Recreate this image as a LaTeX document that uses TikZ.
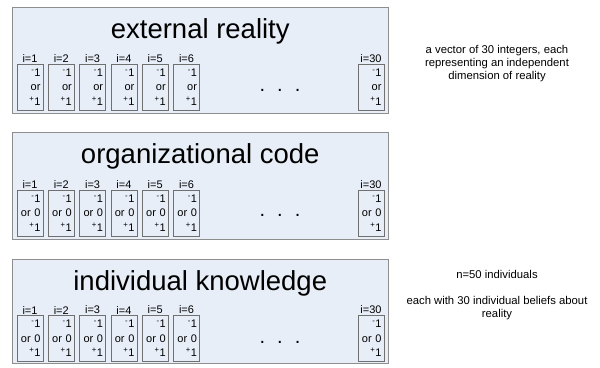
\documentclass[tikz,border=0pt]{standalone}
\usepackage{fontspec}
\setmainfont{Liberation Sans}
\usetikzlibrary{positioning}

\definecolor{panelfill}{HTML}{E8EEF7}
\definecolor{panelline}{HTML}{8E8E8E}
\definecolor{cellline}{HTML}{707070}

\newcommand{\mi}{\textsuperscript{-}1}
\newcommand{\pl}{\textsuperscript{+}1}

\tikzset{
  panel/.style={draw=panelline, fill=panelfill, line width=0.9pt, minimum width=375.5pt, inner sep=0pt},
  paneltitle/.style={inner sep=0pt, font=\fontsize{27.5}{30}\selectfont},
  cell/.style={draw=cellline, fill=panelfill, line width=0.6pt, minimum width=26pt, minimum height=46pt,
    text width=21pt, align=right, inner sep=2pt, font=\fontsize{11}{14.5}\selectfont},
  lab/.style={inner sep=1pt, label distance=0pt, font=\fontsize{11}{12}\selectfont},
  gap/.style={inner sep=0pt, font=\fontsize{20}{20}\selectfont},
  note/.style={align=center, inner sep=0pt, font=\fontsize{11.3}{13}\selectfont}
}

\begin{document}
\begin{tikzpicture}[x=1pt, y=-1pt]
  \useasboundingbox (0,0) rectangle (600,367);

  % external reality
  \node[panel, minimum height=106pt] (ext) at (200.25,60) {};
  \node[paneltitle, below=12pt of ext.north] (exttitle) {external reality};
  \foreach \i in {1,...,6}
    \node[cell, label={[lab]above:i=\i}] (ext\i) at ({30+31.3*(\i-1)},87) {\mi\\or\\\pl};
  \node[cell, label={[lab]above:i=30}] (ext30) at (371,87) {\mi\\or\\\pl};
  \node[gap] (extdots) at (280,90) {.\hspace{12pt}.\hspace{12pt}.};
  \node[note] (extnote) at (497,64) {a vector of 30 integers, each\\representing an independent\\dimension of reality};

  % organizational code
  \node[panel, minimum height=107pt] (org) at (200.25,185.5) {};
  \node[paneltitle, below=12pt of org.north] (orgtitle) {organizational code};
  \foreach \i in {1,...,6}
    \node[cell, label={[lab]above:i=\i}] (org\i) at ({30+31.3*(\i-1)},213) {\mi\\or 0\\\pl};
  \node[cell, label={[lab]above:i=30}] (org30) at (371,213) {\mi\\or 0\\\pl};
  \node[gap] (orgdots) at (280,215) {.\hspace{12pt}.\hspace{12pt}.};

  % individual knowledge
  \node[panel, minimum height=104pt] (ind) at (200.25,311) {};
  \node[paneltitle, below=12pt of ind.north] (indtitle) {individual knowledge};
  \foreach \i in {1,...,6}
    \node[cell, label={[lab]above:i=\i}] (ind\i) at ({30+31.3*(\i-1)},338.5) {\mi\\or 0\\\pl};
  \node[cell, label={[lab]above:i=30}] (ind30) at (371,338.5) {\mi\\or 0\\\pl};
  \node[gap] (inddots) at (280,342) {.\hspace{12pt}.\hspace{12pt}.};
  \node[note] (indcount) at (497,274) {n=50 individuals};
  \node[note, below=18pt of indcount] (indnote) {each with 30 individual beliefs about\\reality};
\end{tikzpicture}
\end{document}
